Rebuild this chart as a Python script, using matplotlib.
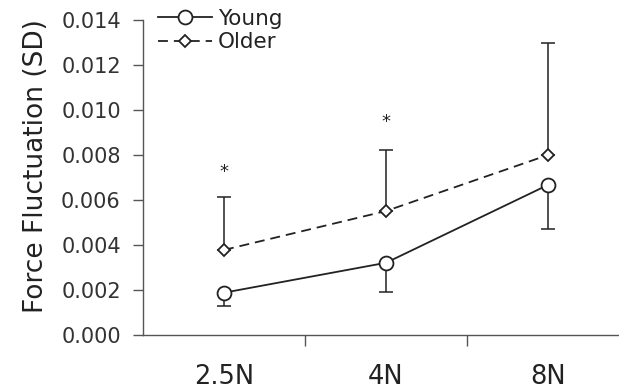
import matplotlib
matplotlib.use('Agg')
import matplotlib.pyplot as plt
import numpy as np

# values
forces = ['2.5N', '4N', '8N']
young_mean = [0.00188, 0.00321, 0.00667]
young_sd = [0.00059, 0.00129, 0.00197]
older_mean = [0.00378, 0.00551, 0.00800]
older_sd = [0.00237, 0.00271, 0.00496]
star_pos = [0, 1]
star_y = [0.00724, 0.00947]

plt.rcParams['font.family'] = ['DejaVu Sans']

fig = plt.figure(figsize=(6.19, 3.9), dpi=100)
ax = fig.add_axes([143 / 619, 55 / 390, 476 / 619, 315 / 390])

x = np.arange(len(forces))
zeros = [0] * len(forces)

# error bars: young downward, older upward
ax.errorbar(x, young_mean, yerr=[young_sd, zeros], fmt='none', ecolor='#222222',
            elinewidth=1.1, capsize=5, capthick=1.1, zorder=2)
ax.errorbar(x, older_mean, yerr=[zeros, older_sd], fmt='none', ecolor='#222222',
            elinewidth=1.1, capsize=5, capthick=1.1, zorder=2)

ax.plot(x, young_mean, '-', color='#222222', lw=1.3, marker='o', ms=10,
        mfc='white', mec='#222222', mew=1.3, label='Young', zorder=3)
ax.plot(x, older_mean, color='#222222', lw=1.3, ls=(0, (5.5, 3.3)), marker='D', ms=6.5,
        mfc='white', mec='#222222', mew=1.3, label='Older', zorder=3)

for xs, ys in zip(star_pos, star_y):
    ax.text(xs, ys, '*', ha='center', va='center', fontsize=13, color='#222222')

ax.set_ylim(0, 0.014)
ax.set_xlim(-0.5, -0.5 + 476 / 162)
ax.set_yticks(np.arange(0, 0.0141, 0.002))
ax.set_yticklabels(['%.3f' % v for v in np.arange(0, 0.0141, 0.002)])
ax.set_xticks(x)
ax.set_xticklabels(forces)
ax.set_xticks([0.5, 1.5], minor=True)

ax.tick_params(axis='y', labelsize=15, length=7, width=1, color='#555555',
               pad=9, labelcolor='#333333')
ax.tick_params(axis='x', which='major', labelsize=18.5, length=0, pad=21,
               labelcolor='#222222')
ax.tick_params(axis='x', which='minor', length=8, width=1, color='#555555')

for side in ['top', 'right']:
    ax.spines[side].set_visible(False)
for side in ['left', 'bottom']:
    ax.spines[side].set_color('#555555')
    ax.spines[side].set_linewidth(1)

ax.set_ylabel('Force Fluctuation (SD)', fontsize=19, color='#222222', va='center')
ax.yaxis.set_label_coords(-0.225, 0.537)

ax.legend(loc='upper left', bbox_to_anchor=(0.0315, 1.035), frameon=False,
          fontsize=15.5, handlelength=2.5, handletextpad=0.28, labelspacing=0.15,
          borderpad=0, borderaxespad=0, labelcolor='#222222')

fig.savefig('out.png', dpi=100)
